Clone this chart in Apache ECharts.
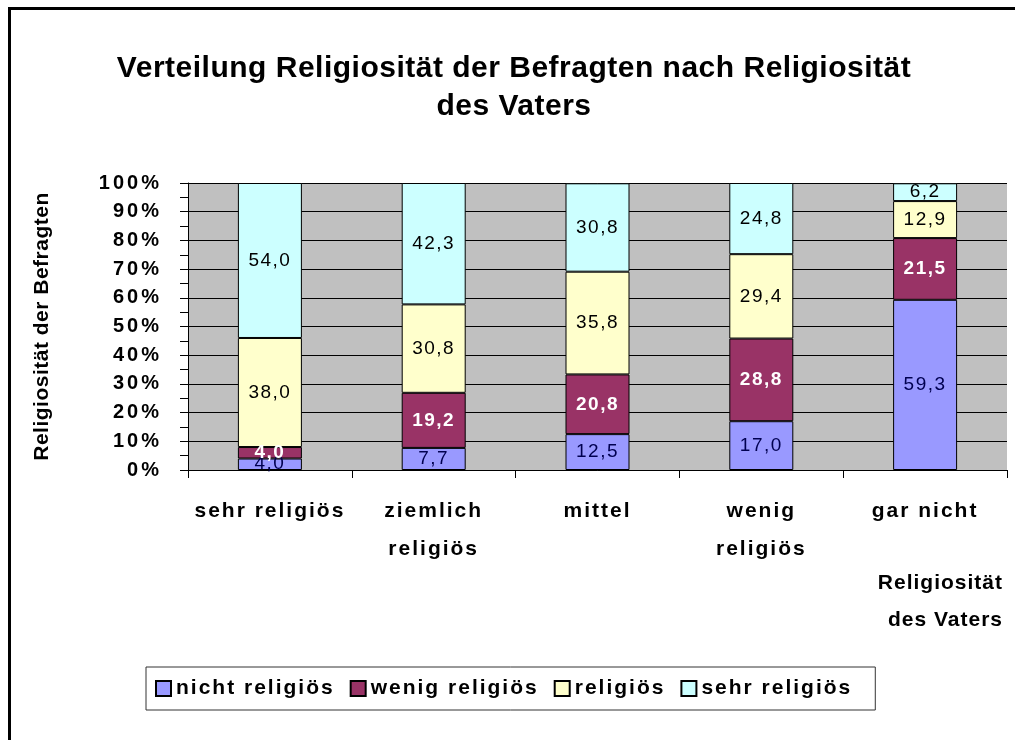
<!DOCTYPE html>
<html>
<head>
<meta charset="utf-8">
<script src="https://cdn.jsdelivr.net/npm/echarts@6/dist/echarts.min.js"></script>
<style>
html,body{margin:0;padding:0;background:#fff;}
#chart{width:1015px;height:740px;}
</style>
</head>
<body>
<div id="chart"></div>
<script>
const categories = ['sehr religiös', 'ziemlich\nreligiös', 'mittel', 'wenig\nreligiös', 'gar nicht'];
const nichtReligioes = [4.0, 7.7, 12.5, 17.0, 59.3];
const wenigReligioes = [4.0, 19.2, 20.8, 28.8, 21.5];
const religioes = [38.0, 30.8, 35.8, 29.4, 12.9];
const sehrReligioes = [54.0, 42.3, 30.8, 24.8, 6.2];
const yTicks = [0, 10, 20, 30, 40, 50, 60, 70, 80, 90, 100];

// Letter spacing support: a marker family name "lspN_M" in a font string sets canvas letterSpacing.
(function () {
  const proto = window.CanvasRenderingContext2D && CanvasRenderingContext2D.prototype;
  if (!proto || !('letterSpacing' in proto)) return;
  const desc = Object.getOwnPropertyDescriptor(proto, 'font');
  if (!desc || !desc.set) return;
  Object.defineProperty(proto, 'font', {
    configurable: true,
    get: function () { return desc.get.call(this); },
    set: function (v) {
      desc.set.call(this, v);
      const m = /lsp(\d+(?:_\d+)?)/.exec(String(v));
      this.letterSpacing = m ? m[1].replace('_', '.') + 'px' : '0px';
    }
  });
})();

const F = sp => '"Liberation Sans", Arial, sans-serif, lsp' + sp;
const fmt = p => p.value.toFixed(1).replace('.', ',');

function mk(name, data, color, labelColor, weight) {
  return {
    name: name,
    type: 'bar',
    stack: 'total',
    data: data,
    barWidth: 64,
    itemStyle: { color: color, borderColor: '#000', borderWidth: 1 },
    label: {
      show: true, position: 'inside', formatter: fmt,
      color: labelColor, fontFamily: F('1_5'), fontSize: 19, fontWeight: weight
    },
    emphasis: { disabled: true },
    animation: false
  };
}

const chart = echarts.init(document.getElementById('chart'), null, { renderer: 'canvas' });
chart.setOption({
  backgroundColor: '#fff',
  animation: false,
  title: {
    text: 'Verteilung Religiosität der Befragten nach Religiosität\ndes Vaters',
    left: 514, top: 50, padding: 0, textAlign: 'center',
    textStyle: { fontFamily: F('0_5'), fontSize: 30, fontWeight: 'bold', color: '#000', lineHeight: 38 }
  },
  graphic: [{
    type: 'rect', silent: true, z: 100,
    shape: { x: 9.5, y: 8.5, width: 1100, height: 800 },
    style: { fill: 'none', stroke: '#000', lineWidth: 3 }
  }],
  legend: {
    top: 667, left: 146,
    data: ['nicht religiös', 'wenig religiös', 'religiös', 'sehr religiös'],
    icon: 'rect', itemWidth: 15, itemHeight: 15, itemGap: 15,
    padding: [10, 23, 10, 9],
    borderColor: '#333', borderWidth: 1,
    selectedMode: false,
    textStyle: { fontFamily: F('2'), fontSize: 21, fontWeight: 'bold', color: '#000' }
  },
  grid: {
    left: 188, right: 8, top: 183, bottom: 270,
    outerBoundsMode: 'none', containLabel: false,
    show: true, backgroundColor: '#C0C0C0', borderWidth: 0
  },
  xAxis: {
    type: 'category',
    data: categories,
    name: 'Religiosität\ndes Vaters',
    nameLocation: 'end',
    nameGap: -4,
    nameMoveOverlap: false,
    nameTextStyle: {
      fontFamily: F('1'), fontSize: 21, fontWeight: 'bold', color: '#000',
      align: 'right', verticalAlign: 'top', lineHeight: 37, padding: [95, 0, 0, 0]
    },
    axisLine: { show: true, lineStyle: { color: '#000', width: 1 } },
    axisTick: { show: true, length: 8, lineStyle: { color: '#000' } },
    axisLabel: {
      margin: 22, fontFamily: F('2'), fontSize: 21, fontWeight: 'bold', color: '#000', lineHeight: 38,
      interval: 0
    },
    splitLine: { show: false }
  },
  yAxis: {
    type: 'value',
    min: 0, max: 100, interval: 10,
    name: 'Religiosität der Befragten',
    nameLocation: 'middle',
    nameGap: 135,
    nameMoveOverlap: false,
    nameTextStyle: { fontFamily: F('0_5'), fontSize: 21, fontWeight: 'bold', color: '#000' },
    axisLine: { show: true, lineStyle: { color: '#000', width: 1 } },
    axisTick: { show: true, length: 8, lineStyle: { color: '#000' } },
    minorTick: { show: true, splitNumber: 2, length: 8, lineStyle: { color: '#000' } },
    axisLabel: {
      margin: 26, fontFamily: F('3'), fontSize: 20, fontWeight: 'bold', color: '#000',
      formatter: v => (yTicks.indexOf(v) >= 0 ? v + '%' : '')
    },
    splitLine: { show: true, lineStyle: { color: '#000', width: 1 } }
  },
  series: [
    mk('nicht religiös', nichtReligioes, '#9999FF', '#000050', 'normal'),
    mk('wenig religiös', wenigReligioes, '#993366', '#fff', 'bold'),
    mk('religiös', religioes, '#FFFFCC', '#000', 'normal'),
    mk('sehr religiös', sehrReligioes, '#CCFFFF', '#000', 'normal')
  ]
});
</script>
</body>
</html>
